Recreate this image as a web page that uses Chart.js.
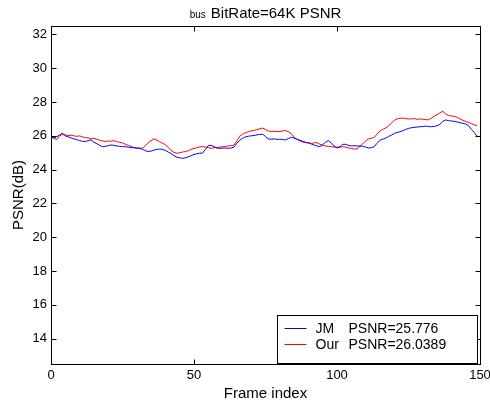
<!DOCTYPE html>
<html>
<head>
<meta charset="utf-8">
<title>bus BitRate=64K PSNR</title>
<script src="https://cdn.jsdelivr.net/npm/chart.js@4.4.0/dist/chart.umd.min.js"></script>
<style>
  html, body { margin: 0; padding: 0; background: #fff; }
  #wrap { width: 490px; height: 407px; position: relative; }
</style>
</head>
<body>
<div id="wrap"><canvas id="psnrChart"></canvas></div>
<script>
// per-frame PSNR (dB) for the bus sequence at 64K
const jmPsnr = [
  25.92, 25.88, 25.95, 26.05, 26.16, 26.00, 25.94, 25.88, 25.82, 25.78,
  25.72, 25.68, 25.66, 25.72, 25.76, 25.62, 25.54, 25.44, 25.36, 25.38,
  25.42, 25.46, 25.44, 25.40, 25.38, 25.36, 25.36, 25.33, 25.30, 25.30,
  25.28, 25.26, 25.20, 25.12, 25.07, 25.10, 25.16, 25.20, 25.22, 25.20,
  25.14, 25.04, 24.96, 24.82, 24.74, 24.70, 24.67, 24.70, 24.76, 24.82,
  24.90, 24.94, 24.97, 24.98, 25.20, 25.42, 25.44, 25.36, 25.28, 25.26,
  25.27, 25.28, 25.26, 25.28, 25.34, 25.56, 25.74, 25.86, 25.94, 25.98,
  26.00, 26.02, 26.06, 26.08, 26.10, 25.96, 25.82, 25.80, 25.82, 25.79,
  25.80, 25.78, 25.76, 25.84, 25.92, 25.86, 25.80, 25.74, 25.68, 25.62,
  25.58, 25.52, 25.46, 25.40, 25.36, 25.48, 25.62, 25.72, 25.58, 25.40,
  25.28, 25.36, 25.50, 25.50, 25.44, 25.40, 25.42, 25.40, 25.40, 25.38,
  25.34, 25.28, 25.30, 25.36, 25.56, 25.74, 25.80, 25.86, 25.96, 26.04,
  26.14, 26.20, 26.24, 26.30, 26.38, 26.44, 26.48, 26.50, 26.52, 26.54,
  26.55, 26.58, 26.55, 26.54, 26.56, 26.60, 26.68, 26.86, 26.94, 26.90,
  26.88, 26.86, 26.82, 26.78, 26.74, 26.70, 26.60, 26.38, 26.20, 25.96
];
const ourPsnr = [
  25.98, 25.85, 25.78, 26.00, 26.08, 26.05, 26.02, 26.04, 26.00, 25.97,
  26.00, 25.94, 25.90, 25.88, 25.82, 25.86, 25.80, 25.74, 25.70, 25.66,
  25.70, 25.68, 25.72, 25.65, 25.62, 25.58, 25.50, 25.44, 25.38, 25.30,
  25.26, 25.28, 25.27, 25.42, 25.60, 25.72, 25.82, 25.74, 25.66, 25.56,
  25.48, 25.30, 25.14, 25.02, 24.97, 25.00, 25.04, 25.07, 25.12, 25.20,
  25.26, 25.30, 25.35, 25.36, 25.34, 25.30, 25.26, 25.30, 25.30, 25.33,
  25.36, 25.38, 25.40, 25.42, 25.46, 25.70, 25.98, 26.10, 26.18, 26.24,
  26.30, 26.32, 26.36, 26.42, 26.46, 26.38, 26.28, 26.26, 26.27, 26.25,
  26.26, 26.29, 26.32, 26.24, 26.14, 25.92, 25.80, 25.70, 25.64, 25.60,
  25.58, 25.56, 25.58, 25.60, 25.50, 25.44, 25.40, 25.38, 25.36, 25.34,
  25.33, 25.32, 25.36, 25.33, 25.28, 25.26, 25.22, 25.22, 25.38, 25.52,
  25.70, 25.82, 25.86, 25.90, 26.10, 26.28, 26.38, 26.46, 26.58, 26.75,
  26.92, 27.00, 27.04, 27.05, 27.02, 27.00, 27.00, 27.02, 26.98, 27.00,
  26.98, 26.96, 26.95, 27.05, 27.16, 27.26, 27.36, 27.46, 27.30, 27.20,
  27.18, 27.15, 27.10, 27.00, 26.92, 26.85, 26.80, 26.72, 26.66, 26.60
];
const frameIndex = Array.from({ length: jmPsnr.length }, (_, i) => i);

const seriesNames = ['JM', 'Our'];
const seriesColors = ['#0000ff', '#ff0000'];
const meanPsnr = ['25.776', '26.0389'];

const xTicks = [0, 50, 100, 150];
const yTicks = [14, 16, 18, 20, 22, 24, 26, 28, 30, 32];

const FONT = '"Liberation Sans", Arial, Helvetica, sans-serif';

function toPoints(values) {
  return values.map((v, i) => ({ x: frameIndex[i], y: v }));
}

// box around the axes with inward tick marks on all four sides
const axesBox = {
  id: 'axesBox',
  afterDatasetsDraw(chart) {
    const { ctx, chartArea: a, scales } = chart;
    const len = 5;
    ctx.save();
    ctx.strokeStyle = '#000';
    ctx.lineWidth = 1;
    const l = Math.round(a.left) + 0.5, r = Math.round(a.right) + 0.5;
    const t = Math.round(a.top) + 0.5, b = Math.round(a.bottom) + 0.5;
    ctx.strokeRect(l, t, r - l, b - t);
    ctx.beginPath();
    xTicks.forEach(v => {
      const px = Math.round(scales.x.getPixelForValue(v)) + 0.5;
      ctx.moveTo(px, b); ctx.lineTo(px, b - len);
      ctx.moveTo(px, t); ctx.lineTo(px, t + len);
    });
    yTicks.forEach(v => {
      const py = Math.round(scales.y.getPixelForValue(v)) + 0.5;
      ctx.moveTo(l, py); ctx.lineTo(l + len, py);
      ctx.moveTo(r, py); ctx.lineTo(r - len, py);
    });
    ctx.stroke();
    ctx.restore();
  }
};

// title with the small sequence name in front
const mixedTitle = {
  id: 'mixedTitle',
  afterDraw(chart) {
    const { ctx, chartArea: a } = chart;
    const small = 'bus', big = 'BitRate=64K PSNR';
    ctx.save();
    ctx.fillStyle = '#000';
    ctx.textBaseline = 'alphabetic';
    ctx.font = '10px ' + FONT;
    const ws = ctx.measureText(small).width;
    ctx.font = '15px ' + FONT;
    const wb = ctx.measureText(big).width;
    const gap = 5;
    let x = (a.left + a.right) / 2 - (ws + gap + wb) / 2;
    ctx.font = '10px ' + FONT;
    ctx.fillText(small, x, 18);
    ctx.font = '15px ' + FONT;
    ctx.fillText(big, x + ws + gap, 18);
    ctx.restore();
  }
};

// boxed legend in the lower right corner of the axes
const boxLegend = {
  id: 'boxLegend',
  afterDraw(chart) {
    const { ctx, chartArea: a } = chart;
    const w = 200, h = 48;
    const left = Math.round(a.right) - 3 - w + 0.5;
    const top = Math.round(a.bottom) - 1 - h + 0.5;
    ctx.save();
    ctx.fillStyle = '#fff';
    ctx.fillRect(left, top, w, h);
    ctx.strokeStyle = '#000';
    ctx.lineWidth = 1;
    ctx.strokeRect(left, top, w, h);
    ctx.font = '14px ' + FONT;
    ctx.textBaseline = 'middle';
    chart.data.datasets.forEach((ds, i) => {
      const cy = Math.round(top + 12 + i * 16) + 0.5;
      ctx.strokeStyle = ds.borderColor;
      ctx.beginPath();
      ctx.moveTo(left + 7, cy);
      ctx.lineTo(left + 29, cy);
      ctx.stroke();
      ctx.fillStyle = '#000';
      ctx.fillText(seriesNames[i], left + 38, cy + 1);
      ctx.fillText('PSNR=' + meanPsnr[i], left + 71, cy + 1);
    });
    ctx.restore();
  }
};

new Chart(document.getElementById('psnrChart').getContext('2d'), {
  type: 'line',
  data: {
    datasets: [
      {
        label: seriesNames[0],
        data: toPoints(jmPsnr),
        borderColor: seriesColors[0],
        borderWidth: 1,
        pointRadius: 0,
        tension: 0,
        fill: false
      },
      {
        label: seriesNames[1],
        data: toPoints(ourPsnr),
        borderColor: seriesColors[1],
        borderWidth: 1,
        pointRadius: 0,
        tension: 0,
        fill: false
      }
    ]
  },
  options: {
    responsive: true,
    maintainAspectRatio: false,
    animation: false,
    layout: { padding: { top: 26, right: 10, left: 0, bottom: 0 } },
    plugins: {
      legend: { display: false },
      title: { display: false },
      tooltip: { enabled: false }
    },
    scales: {
      x: {
        type: 'linear',
        min: 0,
        max: 150,
        afterBuildTicks: scale => { scale.ticks = xTicks.map(v => ({ value: v })); },
        afterFit: scale => {
          scale.height = 43;
          scale.paddingLeft = 0;
          scale.paddingRight = 0;
        },
        grid: { display: false, drawTicks: false },
        border: { display: false },
        ticks: { color: '#000', padding: 4, maxRotation: 0, font: { family: FONT, size: 13 } },
        title: {
          display: true,
          text: 'Frame index',
          color: '#000',
          padding: { top: 0, bottom: 4 },
          font: { family: FONT, size: 15 }
        }
      },
      y: {
        min: 12.5,
        max: 32.5,
        afterBuildTicks: scale => { scale.ticks = yTicks.map(v => ({ value: v })); },
        afterFit: scale => {
          scale.width = 51;
          scale.paddingTop = 0;
          scale.paddingBottom = 0;
        },
        grid: { display: false, drawTicks: false },
        border: { display: false },
        ticks: { color: '#000', padding: 4, font: { family: FONT, size: 13 } },
        title: {
          display: true,
          text: 'PSNR(dB)',
          color: '#000',
          padding: { top: 10, bottom: 0 },
          font: { family: FONT, size: 15 }
        }
      }
    }
  },
  plugins: [axesBox, mixedTitle, boxLegend]
});
</script>
</body>
</html>
